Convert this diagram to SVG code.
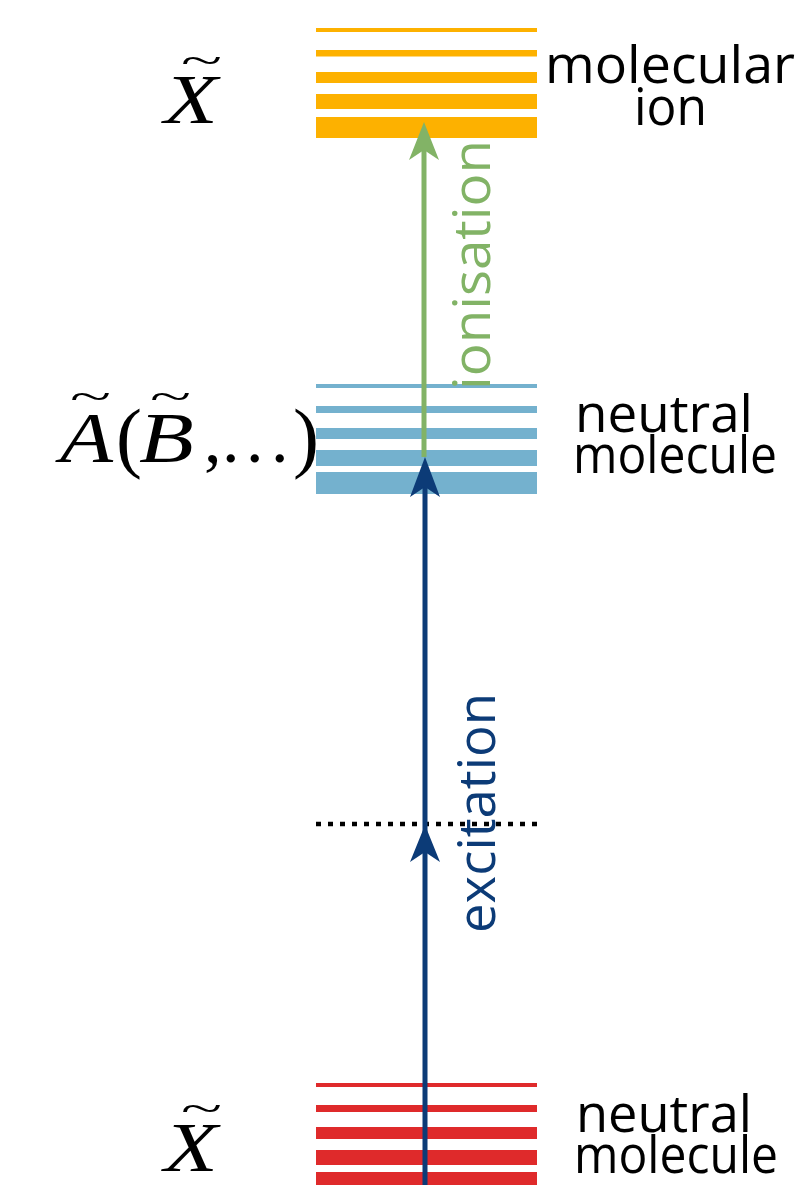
<svg xmlns="http://www.w3.org/2000/svg" width="800" height="1185" viewBox="0 0 800 1185">
<style>
.org{fill:#fdb100}
.blu{fill:#74b1ce}
.red{fill:#df2a2b}
.lbl{font-family:"Open Sans","Liberation Sans",sans-serif;font-size:51px;fill:#000}
.math{font-family:"Liberation Serif","Times New Roman",serif;font-size:70px;fill:#000}
.ital{font-style:italic}
.tl{font-family:"Liberation Serif",serif;font-size:40px;fill:#000}
</style>
<rect width="800" height="1185" fill="#fff"/>
<g id="level-ion">
<rect class="org" x="316" y="28" width="221" height="4"/>
<rect class="org" x="316" y="50" width="221" height="6.5"/>
<rect class="org" x="316" y="72" width="221" height="11"/>
<rect class="org" x="316" y="94" width="221" height="15"/>
<rect class="org" x="316" y="117" width="221" height="21"/>
<text class="lbl" x="545" y="83" textLength="250" lengthAdjust="spacingAndGlyphs">molecular</text>
<text class="lbl" x="634" y="125" textLength="73" lengthAdjust="spacingAndGlyphs">ion</text>
<text class="math ital" transform="translate(164,123) scale(1.26,1)">X</text>
<text class="tl" transform="translate(181,73.5) scale(1.9,1)">~</text>
</g>
<g id="level-excited">
<rect class="blu" x="316" y="384" width="221" height="4"/>
<rect class="blu" x="316" y="406" width="221" height="7"/>
<rect class="blu" x="316" y="428" width="221" height="11"/>
<rect class="blu" x="316" y="450" width="221" height="16"/>
<rect class="blu" x="316" y="472" width="221" height="22"/>
<text class="lbl" x="575" y="432" textLength="178" lengthAdjust="spacingAndGlyphs">neutral</text>
<text class="lbl" x="573" y="473" textLength="204" lengthAdjust="spacingAndGlyphs">molecule</text>
<text class="math ital" transform="translate(60,462) scale(1.24,1.04)">A</text>
<text class="math" x="116" y="463" style="font-size:78px">(</text>
<text class="math ital" transform="translate(139,462) scale(1.28,1.04)">B</text>
<text class="math" x="204" y="462">,</text>
<text class="math" x="222" y="462">.</text>
<text class="math" x="246" y="462">.</text>
<text class="math" x="271" y="462">.</text>
<text class="math" x="293" y="463" style="font-size:78px">)</text>
<text class="tl" transform="translate(70,409.5) scale(1.9,1)">~</text>
<text class="tl" transform="translate(150,409.5) scale(1.9,1)">~</text>
</g>
<g id="level-ground">
<rect class="red" x="316" y="1083" width="221" height="4"/>
<rect class="red" x="316" y="1105" width="221" height="7"/>
<rect class="red" x="316" y="1127" width="221" height="12"/>
<rect class="red" x="316" y="1150" width="221" height="15"/>
<rect class="red" x="316" y="1172" width="221" height="22"/>
<text class="lbl" x="576" y="1132" textLength="176" lengthAdjust="spacingAndGlyphs">neutral</text>
<text class="lbl" x="574" y="1173" textLength="204" lengthAdjust="spacingAndGlyphs">molecule</text>
<text class="math ital" transform="translate(164,1171) scale(1.26,1)">X</text>
<text class="tl" transform="translate(181,1121.5) scale(1.9,1)">~</text>
</g>
<g id="virtual-level">
<line x1="316" y1="824" x2="537" y2="824" stroke="#000" stroke-width="4.5" stroke-dasharray="5 7"/>
</g>
<g id="connectors">
<line x1="425" y1="1185" x2="425" y2="470" stroke="#0c3b77" stroke-width="5"/>
<path d="M425 825 L440 862 L425 852 L410 862 Z" fill="#0c3b77"/>
<path d="M425 457 L440 497 L425 487 L410 497 Z" fill="#0c3b77"/>
<line x1="424" y1="457" x2="424" y2="135" stroke="#82b366" stroke-width="5"/>
<path d="M424 122 L439 160 L424 150 L409 160 Z" fill="#82b366"/>
<text class="lbl" transform="translate(490,390) rotate(-90)" style="fill:#82b366" textLength="250" lengthAdjust="spacingAndGlyphs">ionisation</text>
<text class="lbl" transform="translate(495,933) rotate(-90)" style="fill:#0c3b77" textLength="240" lengthAdjust="spacingAndGlyphs">excitation</text>
</g>
</svg>
